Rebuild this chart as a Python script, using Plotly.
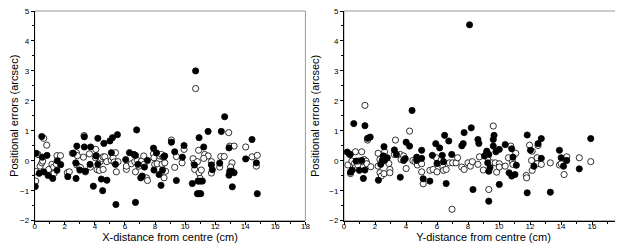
import plotly.graph_objects as go

# ---- Left panel: X-distance ----
x_filled_L = [0.04, 0.1, 0.3, 0.47, 0.5, 0.6, 0.82, 0.89, 1.2, 1.5, 1.48, 1.73, 2.2, 2.57, 2.75, 2.8, 2.73, 3.0,
              3.3, 3.3, 3.37, 3.72, 3.68, 3.9, 4.2, 4.08, 4.2, 4.43, 4.52, 4.6, 4.8, 5.0, 5.17, 5.1, 5.37, 5.4, 5.5,
              6.05, 6.3, 6.6, 6.7, 6.78, 6.7, 6.87, 7.05, 7.15, 7.3, 7.5, 7.9, 7.93, 8.1, 8.27, 8.4, 8.6, 8.5, 8.64,
              10.7, 12.63, 11.53, 12.41, 10.93, 9.09, 14.45, 9.93, 11.24, 9.31, 9.82, 10.62, 10.48, 10.86, 11.0, 11.15,
              10.82, 10.93, 11.04, 9.42, 11.75, 11.81, 12.3, 12.92, 12.97, 13.12, 13.26, 12.92, 13.14, 14.03, 14.74, 14.8]
y_filled_L = [-0.86, 0.25, -0.42, 0.81, 0.12, -0.37, 0.18, -0.49, -0.59, 0.0, -0.32, -0.13, -0.53, 0.25, -0.59, 0.49, -0.07, -0.31,
              0.46, 0.8, -0.35, 0.46, -0.12, -0.85, 0.75, 0.16, -0.12, -0.61, -1.0, 0.58, -0.65, 0.66, 0.77, 0.27, -0.12, -1.46, 0.87,
              0.04, 0.27, 0.21, -1.39, 1.03, 0.18, -0.12, -0.57, -0.51, -0.21, 0.01, 0.42, -0.31, 0.26, -0.46, -0.82, 0.13, -0.31, 0.16,
              3.0, 1.47, 0.98, 0.98, 0.77, 0.62, 0.71, 0.51, 0.46, 0.3, 0.12, -0.14, -0.76, -0.68, -0.68, -0.68,
              -1.1, -1.1, -1.1, -0.66, -0.14, -0.3, -0.08, 0.43, -0.35, -0.35, -0.4, -0.48, -0.87, 0.06, -0.07, -1.1]

x_open_L = [0.07, 0.07, 0.22, 0.36, 0.47, 0.53, 0.6, 0.8, 0.93, 1.15, 1.26, 1.29, 1.48, 1.71, 1.44, 2.17, 2.3, 2.5, 2.77,
            2.84, 2.8, 2.97, 3.06, 3.28, 3.37, 3.24, 3.64, 3.7, 4.06, 4.04, 4.1, 4.15, 4.3, 4.35, 4.43, 4.55, 4.66, 4.55,
            4.79, 5.1, 5.21, 5.28, 5.37, 5.43, 5.54, 6.1, 6.1, 6.43, 6.65, 6.7, 6.83, 6.92, 7.1, 7.25, 7.27, 7.43, 7.5,
            7.9, 7.93, 7.98, 8.14, 8.31, 8.42, 8.54, 8.47, 8.65, 8.6, 8.7,
            10.7, 12.9, 9.09, 9.93, 10.9, 9.42, 9.8, 9.31, 11.3, 11.53, 11.24, 10.53, 10.6, 10.64, 10.82, 10.93, 11.08, 11.0,
            11.75, 11.75, 12.3, 12.37, 12.6, 12.97, 13.26, 13.12, 13.03, 14.03, 14.45, 14.8, 14.74]
y_open_L = [-0.68, -0.36, 0.21, -0.18, -0.07, -0.01, 0.75, 0.52, -0.29, -0.12, -0.21, -0.42, 0.17, 0.17, -0.12, -0.4, -0.37, 0.25, 0.27,
            0.17, -0.14, -0.21, -0.23, 0.84, -0.37, 0.12, 0.23, -0.21, 0.38, 0.1, 0.17, -0.3, -0.32, -0.03, 0.08, 0.13, 0.13, -0.29,
            -0.03, 0.01, 0.1, -0.04, 0.27, -0.37, -0.03, -0.29, -0.18, -0.1, -0.03, -0.37, 0.01, -0.18, -0.01, 0.16, -0.12, -0.57, -0.66,
            0.23, 0.1, -0.12, -0.1, 0.16, 0.21, 0.12, -0.12, -0.07, -0.57, -0.35,
            2.41, 0.94, 0.69, 0.38, 0.35, 0.14, -0.07, -0.22, 0.21, 0.16, 0.08, 0.07, -0.09, -0.29, -0.03, -0.4, -0.31, -0.59,
            -0.03, -0.41, -0.21, 0.14, 0.14, 0.49, 0.49, -0.07, -0.21, 0.46, 0.13, 0.18, -0.18]

# ---- Right panel: Y-distance ----
x_filled_R = [0.21, 0.4, 0.42, 0.53, 0.63, 0.78, 0.99, 1.14, 1.25, 1.35, 1.35, 1.52, 1.69, 2.22, 2.37, 2.47, 2.54, 2.58,
              2.62, 2.79, 3.25, 3.38, 3.63, 3.85, 3.95, 4.01, 4.23, 4.39, 4.69, 4.69, 5.01, 5.01, 5.11, 5.54, 5.7, 5.92,
              6.0, 6.17, 6.34, 6.49, 6.42, 6.59, 6.76, 6.95, 7.6, 7.69, 7.75,
              8.1, 8.21, 8.64, 8.7, 9.06, 9.21, 9.34, 9.27, 9.34, 9.42, 8.32, 9.34, 9.63, 9.68, 9.63, 9.8, 10.02, 10.02,
              10.4, 10.65, 10.82, 10.9, 10.82, 11.03, 11.12, 11.82, 12.03, 11.82, 12.25, 12.52, 12.73, 12.73, 13.31,
              13.9, 14.01, 14.16, 14.37, 15.18, 15.92]
y_filled_R = [0.29, 0.21, -0.38, -0.31, 1.24, -0.01, -0.32, 0.01, -0.59, 1.17, -0.31, 0.75, 0.79, -0.65, -0.12, 0.01, 0.16, 0.47,
              0.01, 0.1, 0.36, 0.21, -0.55, 0.01, 0.07, 0.62, 0.49, 1.68, 0.12, 0.01, 0.35, 0.08, -0.6, -0.68, 0.18, 0.57,
              -0.09, 0.43, 0.18, 0.85, -0.03, -0.76, 0.66, 0.21, 0.5, 0.57, 0.94,
              4.54, 1.1, 0.71, 0.58, 0.16, 0.32, 0.21, -0.07, -0.35, -0.23, -0.96, -1.35, 0.71, 0.85, 0.49, 0.3, 0.38, -0.79,
              0.54, -0.4, 0.4, 0.12, -0.51, -0.46, -0.15, 0.86, 0.35, -1.07, -0.18, 0.57, 0.74, 0.08, -1.05,
              0.35, 0.1, -0.18, 0.01, -0.27, 0.74]

x_open_R = [0.25, 0.36, 0.42, 0.51, 0.68, 0.74, 0.72, 0.89, 0.93, 1.14, 1.2, 1.31, 1.35, 1.42, 1.48, 1.52, 1.73, 2.2, 2.2,
            2.32, 2.32, 2.41, 2.58, 2.62, 2.89, 2.96, 2.96, 3.25, 3.32, 3.63, 3.68, 3.85, 4.01, 4.23, 4.44, 4.58, 4.73,
            5.01, 5.01, 5.11, 5.54, 5.75, 5.96, 6.0, 6.13, 6.28, 6.38, 6.42, 6.59, 6.8, 6.97, 7.01, 7.23, 7.33, 7.6, 7.75,
            8.0, 8.15, 8.28, 8.64, 8.74, 8.99, 9.17, 9.27, 9.34, 9.63, 9.55, 9.76, 9.85, 10.02, 10.02, 10.4, 10.61, 10.76,
            10.87, 10.9, 11.08, 11.76, 11.78, 11.97, 12.14, 12.1, 12.14, 12.46, 12.46, 12.52, 12.73, 13.31, 13.9, 14.01,
            14.2, 14.37, 15.18, 15.92]
y_open_R = [-0.14, 0.21, -0.43, -0.01, -0.09, 0.3, -0.23, -0.14, -0.01, 0.3, -0.03, 0.04, 1.85, -0.01, -0.1, 0.69, -0.2, 0.25, -0.18,
            -0.4, 0.04, -0.51, -0.43, 0.3, -0.09, -0.29, -0.4, 0.21, 0.69, 0.21, 0.04, 0.16, -0.26, 0.99, 0.01, -0.03, -0.14,
            -0.1, -0.37, -0.77, -0.32, -0.29, 0.1, -0.37, -0.07, 0.04, -0.21, -0.32, -0.29, -0.07, -1.62, -0.07, -0.07, 0.1, -0.21, -0.29,
            -0.07, -0.18, -0.03, -0.12, 0.13, -0.31, 0.23, 0.1, -0.96, 1.16, -0.07, -0.07, -0.38, -0.1, -0.21, -0.18, 0.1, 0.49,
            -0.03, -0.12, 0.25, -0.49, -0.57, 0.52, 0.32, 0.01, -0.32, 0.1, -0.1, 0.51, -0.12, -0.07, -0.14, -0.1,
            -0.46, 0.13, 0.1, -0.03]

x_ticks = [0, 2, 4, 6, 8, 10, 12, 14, 16, 18]
y_ticks = [-2, -1, 0, 1, 2, 3, 4, 5]

FONT = "Liberation Sans, Arial, sans-serif"

fig = go.Figure()

def add_series(xs, ys, filled, xa, ya):
    fig.add_trace(go.Scatter(
        x=xs, y=ys, mode="markers", xaxis=xa, yaxis=ya, showlegend=False,
        marker=dict(size=6.2, symbol="circle",
                    color="black" if filled else "white",
                    line=dict(color="black", width=0.8)),
        hoverinfo="x+y"))

add_series(x_open_L, y_open_L, False, "x", "y")
add_series(x_filled_L, y_filled_L, True, "x", "y")
add_series(x_open_R, y_open_R, False, "x2", "y2")
add_series(x_filled_R, y_filled_R, True, "x2", "y2")

TOP = 3.3
H = 247 - TOP
ydom = [1 - (212.7 - TOP) / H, 1.0]
xdom1 = [26.7 / 623, 297.4 / 623]
xdom2 = [336.0 / 623, 615.0 / 623]

def xaxis(dom, anchor, title):
    return dict(domain=dom, anchor=anchor, range=[0, 18], tickvals=x_ticks,
                ticks="outside", ticklen=3, tickwidth=1, tickcolor="black",
                minor=dict(dtick=1, ticks="outside", ticklen=2, tickcolor="black"),
                showline=True, linecolor="black", linewidth=1, showgrid=False, zeroline=False,
                ticklabeloverflow="allow", ticklabelstandoff=-5,
                tickfont=dict(family=FONT, size=8, color="black"),
                title=dict(text=title, font=dict(family=FONT, size=11, color="black"), standoff=0))

def yaxis(dom, anchor):
    return dict(domain=dom, anchor=anchor, range=[-2, 5], tickvals=y_ticks,
                ticks="outside", ticklen=3, tickwidth=1, tickcolor="black",
                minor=dict(dtick=0.5, ticks="outside", ticklen=2, tickcolor="black"),
                showline=True, linecolor="black", linewidth=1, showgrid=False, zeroline=False,
                ticklabeloverflow="allow",
                tickfont=dict(family=FONT, size=8, color="black"),
                title=dict(text="Positional errors (arcsec)", font=dict(family=FONT, size=11, color="black"), standoff=7))

fig.update_layout(
    width=623, height=247, margin=dict(l=0, r=0, t=TOP, b=0, autoexpand=False),
    paper_bgcolor="white", plot_bgcolor="white",
    xaxis=xaxis(xdom1, "y", "X-distance from centre (cm)"),
    yaxis=yaxis(ydom, "x"),
    xaxis2=xaxis(xdom2, "y2", "Y-distance from centre (cm)"),
    yaxis2=yaxis(ydom, "x2"),
    shapes=[
        dict(type="rect", xref="x domain", yref="y domain", x0=0, x1=1, y0=0, y1=1,
             line=dict(color="#999999", width=1), layer="below"),
        dict(type="rect", xref="x2 domain", yref="y2 domain", x0=0, x1=1, y0=0, y1=1,
             line=dict(color="#999999", width=1), layer="below"),
    ],
)

fig.write_html("out.html")
